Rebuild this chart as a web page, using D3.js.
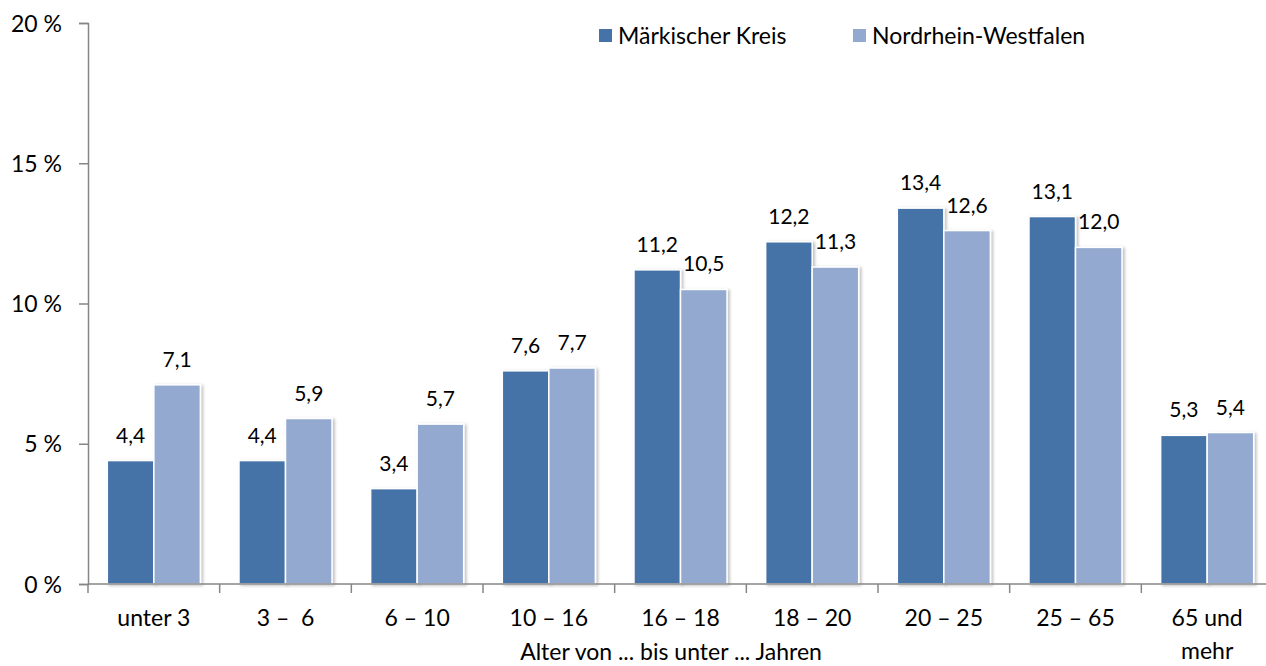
<!DOCTYPE html>
<html>
<head>
<meta charset="utf-8">
<script src="https://cdn.jsdelivr.net/npm/d3@7"></script>
<style>
  body { margin: 0; background: #fff; }
  svg, svg text { font-family: Lato, "Open Sans", sans-serif; }
</style>
</head>
<body>
<script>
// Daten
const categories = ['unter 3', '3 –  6', '6 – 10', '10 – 16', '16 – 18', '18 – 20', '20 – 25', '25 – 65', '65 und mehr'];
const series = ['Märkischer Kreis', 'Nordrhein-Westfalen'];
const maerkischerKreis = [4.4, 4.4, 3.4, 7.6, 11.2, 12.2, 13.4, 13.1, 5.3];
const nrw = [7.1, 5.9, 5.7, 7.7, 10.5, 11.3, 12.6, 12.0, 5.4];
const yTicks = [0, 5, 10, 15, 20];

const width = 1266;
const height = 666;
const margin = { top: 23, right: -7, bottom: 82, left: 88 };
const colors = ['#4573a7', '#93a9cf'];

const data = categories.map((c, i) => ({ cat: c, values: [maerkischerKreis[i], nrw[i]] }));

const svg = d3.select('body')
  .append('svg')
  .attr('width', width)
  .attr('height', height);

// Schatten
const defs = svg.append('defs');
const f = defs.append('filter').attr('id', 'shadow')
  .attr('x', '-20%').attr('y', '-10%').attr('width', '150%').attr('height', '130%');
f.append('feDropShadow')
  .attr('dx', 2).attr('dy', 1).attr('stdDeviation', 1.5)
  .attr('flood-color', '#000').attr('flood-opacity', 0.25);

const x0 = d3.scaleBand()
  .domain(categories)
  .range([margin.left, width - margin.right]);

const x1 = d3.scaleBand()
  .domain(series)
  .range([0, x0.bandwidth()])
  .paddingInner(0)
  .paddingOuter(0.415);

const y = d3.scaleLinear()
  .domain([0, 20])
  .range([height - margin.bottom, margin.top]);

const fmt = v => d3.format('.1f')(v).replace('.', ',');

// Balken
const groups = svg.append('g')
  .selectAll('g')
  .data(data)
  .enter()
  .append('g')
  .attr('transform', d => `translate(${x0(d.cat)},0)`);

groups.selectAll('rect')
  .data(d => d.values.map((v, i) => ({ key: series[i], v, i })))
  .enter()
  .append('rect')
  .attr('x', d => x1(d.key))
  .attr('y', d => y(d.v))
  .attr('width', x1.bandwidth())
  .attr('height', d => y(0) - y(d.v))
  .attr('fill', d => colors[d.i])
  .attr('stroke', '#fff')
  .attr('stroke-width', 1.5)
  .attr('filter', 'url(#shadow)');

// Beschriftungen
groups.selectAll('text')
  .data(d => d.values.map((v, i) => ({ key: series[i], v, i })))
  .enter()
  .append('text')
  .attr('x', d => x1(d.key) + x1.bandwidth() / 2)
  .attr('y', d => y(d.v) - 18)
  .attr('text-anchor', 'middle')
  .style('font-size', '21px')
  .style('fill', '#000')
  .text(d => fmt(d.v));

// Y-Achse
const yAxis = svg.append('g')
  .attr('transform', `translate(${margin.left},0)`)
  .call(d3.axisLeft(y).tickValues(yTicks).tickSize(9).tickPadding(17).tickSizeOuter(9).tickFormat(d => d + ' %'));
yAxis.attr('font-family', null);
yAxis.selectAll('path, line').attr('stroke', '#868686').attr('stroke-width', 1.5);
yAxis.selectAll('text').style('font-size', '23px').style('fill', '#000').attr('dy', '0.35em');

// X-Achse
const xAxis = svg.append('g')
  .attr('transform', `translate(0,${y(0)})`);
xAxis.append('line')
  .attr('x1', margin.left).attr('x2', width)
  .attr('stroke', '#868686').attr('stroke-width', 1.5);
xAxis.selectAll('line.tick')
  .data(categories)
  .enter()
  .append('line')
  .attr('class', 'tick')
  .attr('x1', d => x0(d)).attr('x2', d => x0(d))
  .attr('y1', 0).attr('y2', 9)
  .attr('stroke', '#868686').attr('stroke-width', 1.5);

const xl = xAxis.selectAll('text')
  .data(categories)
  .enter()
  .append('text')
  .attr('text-anchor', 'middle')
  .attr('x', d => x0(d) + x0.bandwidth() / 2)
  .attr('y', 42)
  .style('font-size', '23px')
  .style('fill', '#000')
  .style('white-space', 'pre');
xl.each(function (d) {
  const t = d3.select(this);
  if (d === '65 und mehr') {
    t.append('tspan').attr('x', t.attr('x')).text('65 und');
    t.append('tspan').attr('x', t.attr('x')).attr('dy', 33).text('mehr');
  } else {
    t.text(d);
  }
});

// Achsentitel
svg.append('text')
  .attr('x', 671)
  .attr('y', 660)
  .attr('text-anchor', 'middle')
  .style('font-size', '23px')
  .style('fill', '#000')
  .text('Alter von ... bis unter ... Jahren');

// Legende
const legendX = [599, 853];
const legend = svg.append('g')
  .selectAll('g')
  .data(series)
  .enter()
  .append('g')
  .attr('transform', (d, i) => `translate(${legendX[i]},29)`);
legend.append('rect')
  .attr('width', 13).attr('height', 13)
  .attr('fill', (d, i) => colors[i]);
legend.append('text')
  .attr('x', 19)
  .attr('y', 15)
  .style('font-size', '23px')
  .style('fill', '#000')
  .text(d => d);
</script>
</body>
</html>
